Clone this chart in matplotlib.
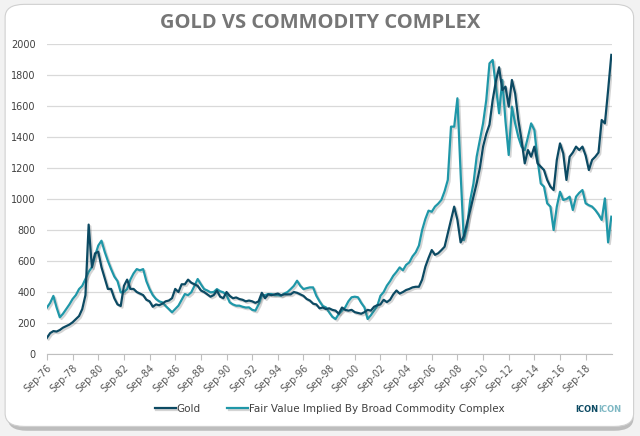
import matplotlib
matplotlib.use("Agg")
import matplotlib.pyplot as plt
import matplotlib.patheffects as pe
from matplotlib.patches import FancyBboxPatch
import numpy as np

# ---- data (quarterly readings, fractional years) ----
start_year = 1976.75
step = 0.25

gold = [
    105, 135, 148, 145, 155, 170, 180, 190, 205, 225, 245, 290, 380, 835, 560, 650,
    660, 560, 490, 420, 420, 360, 320, 310, 440, 480, 420, 420, 400, 390, 380, 350,
    340, 305, 320, 315, 325, 340, 345, 360, 420, 400, 450, 450, 480, 460, 450, 440,
    410, 400, 385, 370, 380, 410, 370, 360, 400, 375, 360, 365, 355, 350, 340, 345,
    340, 330, 340, 395, 360, 385, 380, 385, 390, 380, 385, 385, 385, 400, 395, 385,
    375, 355, 345, 325, 320, 295, 300, 290, 295, 285, 280, 260, 300, 285, 280, 285,
    270, 265, 260, 270, 285, 280, 305, 315, 320, 350, 335, 350, 385, 410, 390, 400,
    413, 420, 430, 434, 434, 480, 563, 620, 671, 640, 650, 670, 692, 780, 865, 951,
    865, 720, 760, 843, 930, 1015, 1101, 1200, 1338, 1420, 1480, 1639, 1760, 1850, 1703, 1725,
    1596, 1768, 1682, 1510, 1381, 1230, 1316, 1273, 1338, 1230, 1209, 1187, 1123, 1080, 1058, 1252,
    1359, 1295, 1123, 1273, 1300, 1338, 1316, 1338, 1280, 1187, 1252, 1273, 1300, 1510, 1488, 1703,
    1930,
]

fair_value = [
    300, 330, 375, 300, 237, 260, 290, 320, 355, 380, 419, 440, 484, 530, 560, 634,
    700, 731, 660, 600, 548, 500, 470, 398, 400, 419, 480, 520, 548, 540, 548, 470,
    419, 380, 355, 340, 333, 310, 290, 269, 290, 312, 350, 387, 380, 398, 440, 484,
    450, 419, 410, 398, 400, 419, 405, 398, 380, 333, 320, 312, 312, 305, 300, 301,
    285, 280, 320, 376, 380, 387, 387, 380, 380, 376, 390, 400, 419, 440, 473, 440,
    419, 425, 430, 430, 376, 340, 310, 301, 269, 240, 226, 258, 280, 301, 340, 366,
    370, 366, 330, 301, 226, 250, 280, 310, 376, 400, 441, 470, 505, 530, 559, 540,
    575, 591, 630, 656, 700, 800, 871, 925, 918, 951, 970, 994, 1050, 1123, 1467, 1467,
    1650, 1166, 735, 822, 994, 1100, 1273, 1380, 1488, 1639, 1875, 1897, 1725, 1553, 1768, 1500,
    1284, 1596, 1488, 1400, 1338, 1316, 1400, 1488, 1445, 1252, 1100, 1080, 972, 951, 800, 951,
    1047, 994, 1000, 1015, 929, 1015, 1040, 1058, 972, 960, 951, 929, 900, 865, 1004, 720,
    886,
]

tick_labels = ["Sep-76", "Sep-78", "Sep-80", "Sep-82", "Sep-84", "Sep-86", "Sep-88",
               "Sep-90", "Sep-92", "Sep-94", "Sep-96", "Sep-98", "Sep-00", "Sep-02",
               "Sep-04", "Sep-06", "Sep-08", "Sep-10", "Sep-12", "Sep-14", "Sep-16",
               "Sep-18"]

series_names = ["Gold", "Fair Value Implied By Broad Commodity Complex"]
title = "GOLD VS COMMODITY COMPLEX"

# ---- figure ----
fig = plt.figure(figsize=(6.4, 4.36), dpi=100)
fig.patch.set_facecolor("#f2f2f2")

# card background with shadow
shadow = FancyBboxPatch((0.012, 0.012), 0.978, 0.968,
                        boxstyle="round,pad=0,rounding_size=0.03",
                        transform=fig.transFigure, facecolor="#9a9a9a",
                        edgecolor="none", alpha=0.6, zorder=-10)
card = FancyBboxPatch((0.008, 0.022), 0.982, 0.968,
                      boxstyle="round,pad=0,rounding_size=0.03",
                      transform=fig.transFigure, facecolor="white",
                      edgecolor="#d0d0d0", linewidth=0.8, zorder=-9)
fig.patches.extend([shadow, card])

ax = fig.add_axes([0.0734, 0.188, 0.8828, 0.711])
ax.set_facecolor("none")
ax.set_zorder(1)

dates = start_year + step * np.arange(len(gold))

c_gold = "#0c4a63"
c_fv = "#1f97a8"
shadow_fx = [pe.SimpleLineShadow(offset=(1.2, -1.2), alpha=0.25, shadow_color="#555555"),
             pe.Normal()]

ax.plot(dates, fair_value, color=c_fv, lw=1.6, label=series_names[1],
        path_effects=shadow_fx, zorder=3)
ax.plot(dates, gold, color=c_gold, lw=1.6, label=series_names[0],
        path_effects=shadow_fx, zorder=4)

ax.set_xlim(start_year, dates[-1] + 0.05)
ax.set_ylim(0, 2000)
ax.set_yticks(np.arange(0, 2001, 200))
ax.tick_params(axis="y", length=0, labelsize=7, labelcolor="#404040", pad=8)
ax.grid(axis="y", color="#d9d9d9", lw=0.9)
ax.set_axisbelow(True)

xt = start_year + 2 * np.arange(len(tick_labels))
ax.set_xticks(xt)
ax.set_xticklabels(tick_labels, rotation=45, ha="right", rotation_mode="anchor",
                   fontsize=7, color="#595959")
ax.tick_params(axis="x", length=4, color="#bfbfbf", pad=2)

for s in ["top", "right", "left"]:
    ax.spines[s].set_visible(False)
ax.spines["bottom"].set_color("#bfbfbf")

fig.text(0.5, 0.948, title, ha="center", va="center", fontsize=14.5,
         fontweight="bold", color="#767676", family="Open Sans")

h, l = ax.get_legend_handles_labels()
leg = fig.legend([h[1], h[0]], [l[1], l[0]], loc="center", bbox_to_anchor=(0.515, 0.063),
                 ncol=2, frameon=False, fontsize=7.5, handlelength=2.0,
                 columnspacing=2.5, handletextpad=0.1)
for t in leg.get_texts():
    t.set_color("#404040")

fig.text(0.935, 0.06, "ICON", ha="right", va="center", fontsize=6,
         color="#0c4a63", fontweight="bold")
fig.text(0.935, 0.06, "ICON", ha="left", va="center", fontsize=6,
         color="#7fb8c4", fontweight="bold")

fig.savefig("out.png", dpi=100, facecolor=fig.get_facecolor())
